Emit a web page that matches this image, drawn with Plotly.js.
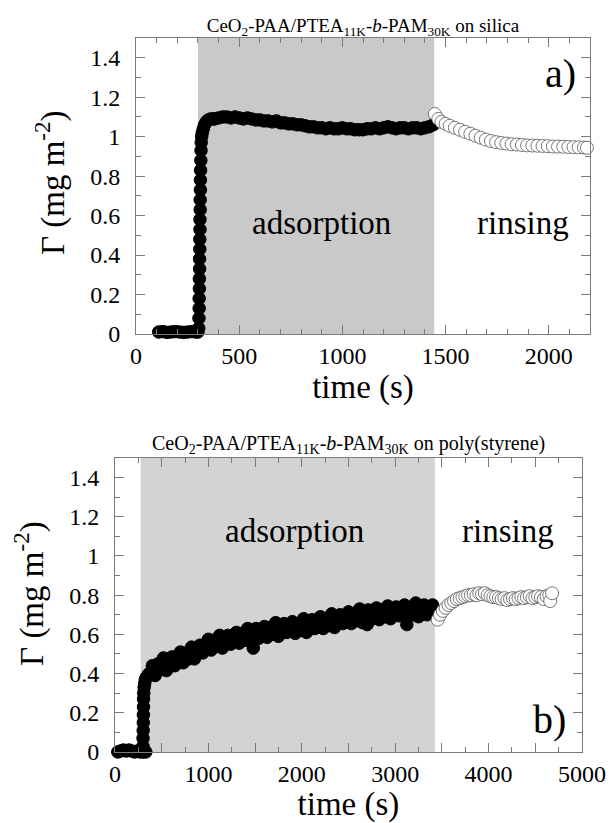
<!DOCTYPE html>
<html>
<head>
<meta charset="utf-8">
<script src="https://cdn.plot.ly/plotly-3.0.1.min.js"></script>
<style>html,body{margin:0;padding:0;background:#fff;}#chart{width:613px;height:823px;}</style>
</head>
<body>
<div id="chart"></div>
<script>
// ---------- Panel a) CeO2-PAA/PTEA11K-b-PAM30K on silica ----------
const adsorptionA = [300, 1445];          // shaded adsorption window (s)
const timeAdsA = [110,130,150,170,190,210,230,250,270,290,300,
  304,305,306,306,307,307,308,308,309,309,310,310,311,311,312,312,313,314,315,316,318,321,
  326,332,340,350,362,375,
  380,400,420,440,460,480,500,520,540,560,580,600,620,640,660,680,700,720,740,760,780,800,
  820,840,860,880,900,920,940,960,980,1000,1020,1040,1060,1080,1100,1120,1140,1160,1180,1200,
  1220,1240,1260,1280,1300,1320,1340,1360,1380,1400,1420,1440];
const gammaAdsA = [0.01,0.012,0.008,0.01,0.012,0.01,0.008,0.01,0.012,0.01,0.01,
  0.03,0.08,0.13,0.18,0.23,0.28,0.33,0.38,0.43,0.48,0.53,0.58,0.63,0.68,0.73,0.78,0.83,0.88,0.93,0.97,1.0,1.02,
  1.04,1.06,1.075,1.085,1.09,1.09,
  1.09,1.095,1.10,1.10,1.095,1.10,1.095,1.09,1.095,1.09,1.085,1.085,1.08,1.08,1.075,1.08,1.07,1.07,1.065,1.065,1.06,1.06,
  1.055,1.05,1.05,1.045,1.045,1.04,1.045,1.04,1.04,1.045,1.04,1.04,1.035,1.035,1.035,1.04,1.04,1.045,1.04,1.045,
  1.05,1.045,1.04,1.045,1.045,1.04,1.045,1.045,1.04,1.045,1.05,1.06];
const timeRinseA = [1448,1465,1480,1500,1520,1545,1570,1595,1620,1645,1670,1695,1720,1745,1770,1795,
  1820,1845,1870,1895,1920,1945,1970,1995,2020,2045,2070,2095,2120,2145,2170,2185];
const gammaRinseA = [1.115,1.09,1.075,1.065,1.055,1.045,1.035,1.025,1.015,1.005,0.995,0.985,0.978,0.972,0.968,0.965,
  0.962,0.96,0.958,0.956,0.955,0.954,0.953,0.952,0.95,0.95,0.949,0.948,0.947,0.946,0.945,0.944];

// ---------- Panel b) CeO2-PAA/PTEA11K-b-PAM30K on poly(styrene) ----------
const adsorptionB = [275, 3425];
const timeAdsB = [30,60,90,120,150,180,210,240,270,300,330,
  300,300,302,303,304,305,306,308,312,318,325,335,350,365,380,
  400,430,460,490,520,550,580,610,640,670,700,730,760,790,820,850,880,910,940,970,
  1000,1030,1060,1090,1120,1150,1180,1210,1240,1270,1300,1330,1360,1390,1420,1450,1480,1510,1540,1570,
  1600,1630,1660,1690,1720,1750,1780,1810,1840,1870,1900,1930,1960,1990,2020,2050,2080,2110,2140,2170,
  2200,2230,2260,2290,2320,2350,2380,2410,2440,2470,2500,2530,2560,2590,2620,2650,2680,2710,2740,2770,
  2800,2830,2860,2890,2920,2950,2980,3010,3040,3070,3100,3130,3160,3190,3220,3250,3280,3310,3340,3370,
  3400,3420, 1480,2700,3125];
const gammaAdsB = [0.0,0.005,0.01,0.005,0.01,0.005,0.0,0.005,0.0,0.0,0.0,
  0.03,0.07,0.11,0.15,0.19,0.23,0.27,0.30,0.33,0.35,0.37,0.38,0.39,0.40,0.405,
  0.44,0.39,0.45,0.42,0.48,0.415,0.455,0.485,0.44,0.48,0.51,0.455,0.505,0.475,0.535,0.475,0.515,0.545,0.505,0.545,
  0.575,0.52,0.57,0.54,0.595,0.53,0.57,0.595,0.55,0.59,0.61,0.555,0.605,0.57,0.63,0.565,0.60,0.63,0.58,0.62,
  0.64,0.585,0.635,0.60,0.66,0.59,0.63,0.655,0.61,0.645,0.665,0.605,0.655,0.62,0.68,0.61,0.65,0.675,0.63,0.665,
  0.69,0.63,0.68,0.645,0.705,0.635,0.675,0.70,0.655,0.69,0.715,0.655,0.705,0.67,0.73,0.66,0.70,0.725,0.675,0.71,
  0.735,0.675,0.725,0.69,0.745,0.68,0.715,0.74,0.695,0.73,0.75,0.69,0.735,0.70,0.76,0.69,0.725,0.75,0.70,0.735,
  0.75,0.715, 0.53,0.65,0.65];
const timeRinseB = [3455,3480,3510,3540,3570,3600,3630,3660,3690,3720,3750,3780,3810,3840,3870,3900,3930,3960,3990,
  4020,4050,4080,4110,4140,4170,4200,4230,4260,4290,4320,4350,4380,4410,4440,4470,4500,4530,4560,4590,4620,4650,4660,4680];
const gammaRinseB = [0.675,0.70,0.72,0.735,0.75,0.76,0.77,0.78,0.785,0.79,0.795,0.80,0.80,0.805,0.80,0.81,0.805,0.81,0.80,
  0.795,0.79,0.79,0.785,0.78,0.785,0.775,0.78,0.785,0.78,0.785,0.79,0.785,0.79,0.795,0.785,0.79,0.795,0.79,0.78,0.795,0.80,0.77,0.81];

const SERIF = 'Liberation Serif';
const FRAME = '#7a7a7a';
const Y_TITLE = 'Γ (mg m<sup>-2</sup>)';

function filled(x, y, xa, ya) {
  return {x: x, y: y, xaxis: xa, yaxis: ya, type: 'scatter', mode: 'markers', cliponaxis: false,
    hoverinfo: 'skip', showlegend: false,
    marker: {size: 12.5, color: '#000', line: {color: '#000', width: 1}}};
}
function open(x, y, xa, ya) {
  return {x: x, y: y, xaxis: xa, yaxis: ya, type: 'scatter', mode: 'markers', cliponaxis: false,
    hoverinfo: 'skip', showlegend: false,
    marker: {size: 13, color: '#fff', line: {color: '#555', width: 0.8}}};
}

const data = [
  filled(timeAdsA, gammaAdsA, 'x', 'y'),
  open(timeRinseA, gammaRinseA, 'x', 'y'),
  filled(timeAdsB, gammaAdsB, 'x2', 'y2'),
  open(timeRinseB, gammaRinseB, 'x2', 'y2')
];

function xAxis(domain, range, labelStep, minorDtick, anchor) {
  return {domain: domain, range: range, anchor: anchor, tickmode: 'linear', tick0: 0, dtick: 500, ticklabelstep: labelStep,
    ticks: 'inside', ticklen: 9, tickwidth: 1, tickcolor: FRAME,
    minor: {dtick: minorDtick, tick0: 0, ticks: 'inside', ticklen: 5, tickwidth: 1, tickcolor: FRAME, showgrid: false},
    showline: true, linecolor: FRAME, linewidth: 1, mirror: 'allticks',
    showgrid: false, zeroline: false, ticklabelstandoff: 0,
    tickfont: {family: SERIF, size: 24, color: '#000'},
    title: {text: 'time (s)', font: {family: SERIF, size: 33, color: '#000'}, standoff: 0}};
}
function yAxis(domain, anchor) {
  return {domain: domain, range: [0, 1.5], anchor: anchor, tickmode: 'linear', tick0: 0, dtick: 0.2,
    ticks: 'inside', ticklen: 9, tickwidth: 1, tickcolor: FRAME,
    minor: {dtick: 0.1, tick0: 0, ticks: 'inside', ticklen: 5, tickwidth: 1, tickcolor: FRAME, showgrid: false},
    showline: true, linecolor: FRAME, linewidth: 1, mirror: 'allticks',
    showgrid: false, zeroline: false, ticklabelstandoff: 10,
    tickfont: {family: SERIF, size: 24, color: '#000'}};
}

const layout = {
  width: 613, height: 823,
  margin: {l: 0, r: 0, t: 0, b: 0},
  font: {family: SERIF, color: '#000'},
  paper_bgcolor: '#fff', plot_bgcolor: 'rgba(0,0,0,0)',
  showlegend: false,
  title: {text: 'CeO<sub>2</sub>-PAA/PTEA<sub>11K</sub>-<i>b</i>-PAM<sub>30K</sub> on silica',
    font: {family: SERIF, size: 19, color: '#000'}, x: 0.592, xanchor: 'center', y: 0.969, yanchor: 'middle'},
  xaxis: xAxis([0.2219, 0.9625], [0, 2200], 1, 100, 'y'),
  yaxis: yAxis([0.5942, 0.9538], 'x'),
  xaxis2: xAxis([0.1876, 0.9494], [0, 5000], 2, 250, 'y2'),
  yaxis2: yAxis([0.0863, 0.4435], 'x2'),
  shapes: [
    {type: 'rect', xref: 'x', yref: 'y domain', x0: adsorptionA[0], x1: adsorptionA[1], y0: 0, y1: 1,
      fillcolor: '#c9c9c9', line: {width: 0}, layer: 'below'},
    {type: 'rect', xref: 'x2', yref: 'y2 domain', x0: adsorptionB[0], x1: adsorptionB[1], y0: 0, y1: 1,
      fillcolor: '#d3d3d3', line: {width: 0}, layer: 'below'}
  ],
  annotations: [
    {text: 'CeO<sub>2</sub>-PAA/PTEA<sub>11K</sub>-<i>b</i>-PAM<sub>30K</sub> on poly(styrene)',
      xref: 'paper', yref: 'paper', x: 0.568, y: 0.4605, xanchor: 'center', yanchor: 'middle', showarrow: false,
      font: {family: SERIF, size: 20, color: '#000'}},
    {text: Y_TITLE, xref: 'paper', yref: 'paper', x: 0.0816, y: 0.7776, xanchor: 'center', yanchor: 'middle',
      textangle: -90, showarrow: false, font: {family: SERIF, size: 33, color: '#000'}},
    {text: Y_TITLE, xref: 'paper', yref: 'paper', x: 0.0489, y: 0.2795, xanchor: 'center', yanchor: 'middle',
      textangle: -90, showarrow: false, font: {family: SERIF, size: 33, color: '#000'}},
    {text: 'adsorption', xref: 'x', yref: 'y', x: 901, y: 0.56, showarrow: false, font: {family: SERIF, size: 33, color: '#000'}},
    {text: 'rinsing', xref: 'x', yref: 'y', x: 1876, y: 0.56, showarrow: false, font: {family: SERIF, size: 33, color: '#000'}},
    {text: 'a)', xref: 'x', yref: 'y', x: 2055, y: 1.32, showarrow: false, font: {family: SERIF, size: 40, color: '#000'}},
    {text: 'adsorption', xref: 'x2', yref: 'y2', x: 1927, y: 1.128, showarrow: false, font: {family: SERIF, size: 33, color: '#000'}},
    {text: 'rinsing', xref: 'x2', yref: 'y2', x: 4207, y: 1.128, showarrow: false, font: {family: SERIF, size: 33, color: '#000'}},
    {text: 'b)', xref: 'x2', yref: 'y2', x: 4657, y: 0.165, showarrow: false, font: {family: SERIF, size: 40, color: '#000'}}
  ]
};

Plotly.newPlot('chart', data, layout, {staticPlot: true, displayModeBar: false});
</script>
</body>
</html>
